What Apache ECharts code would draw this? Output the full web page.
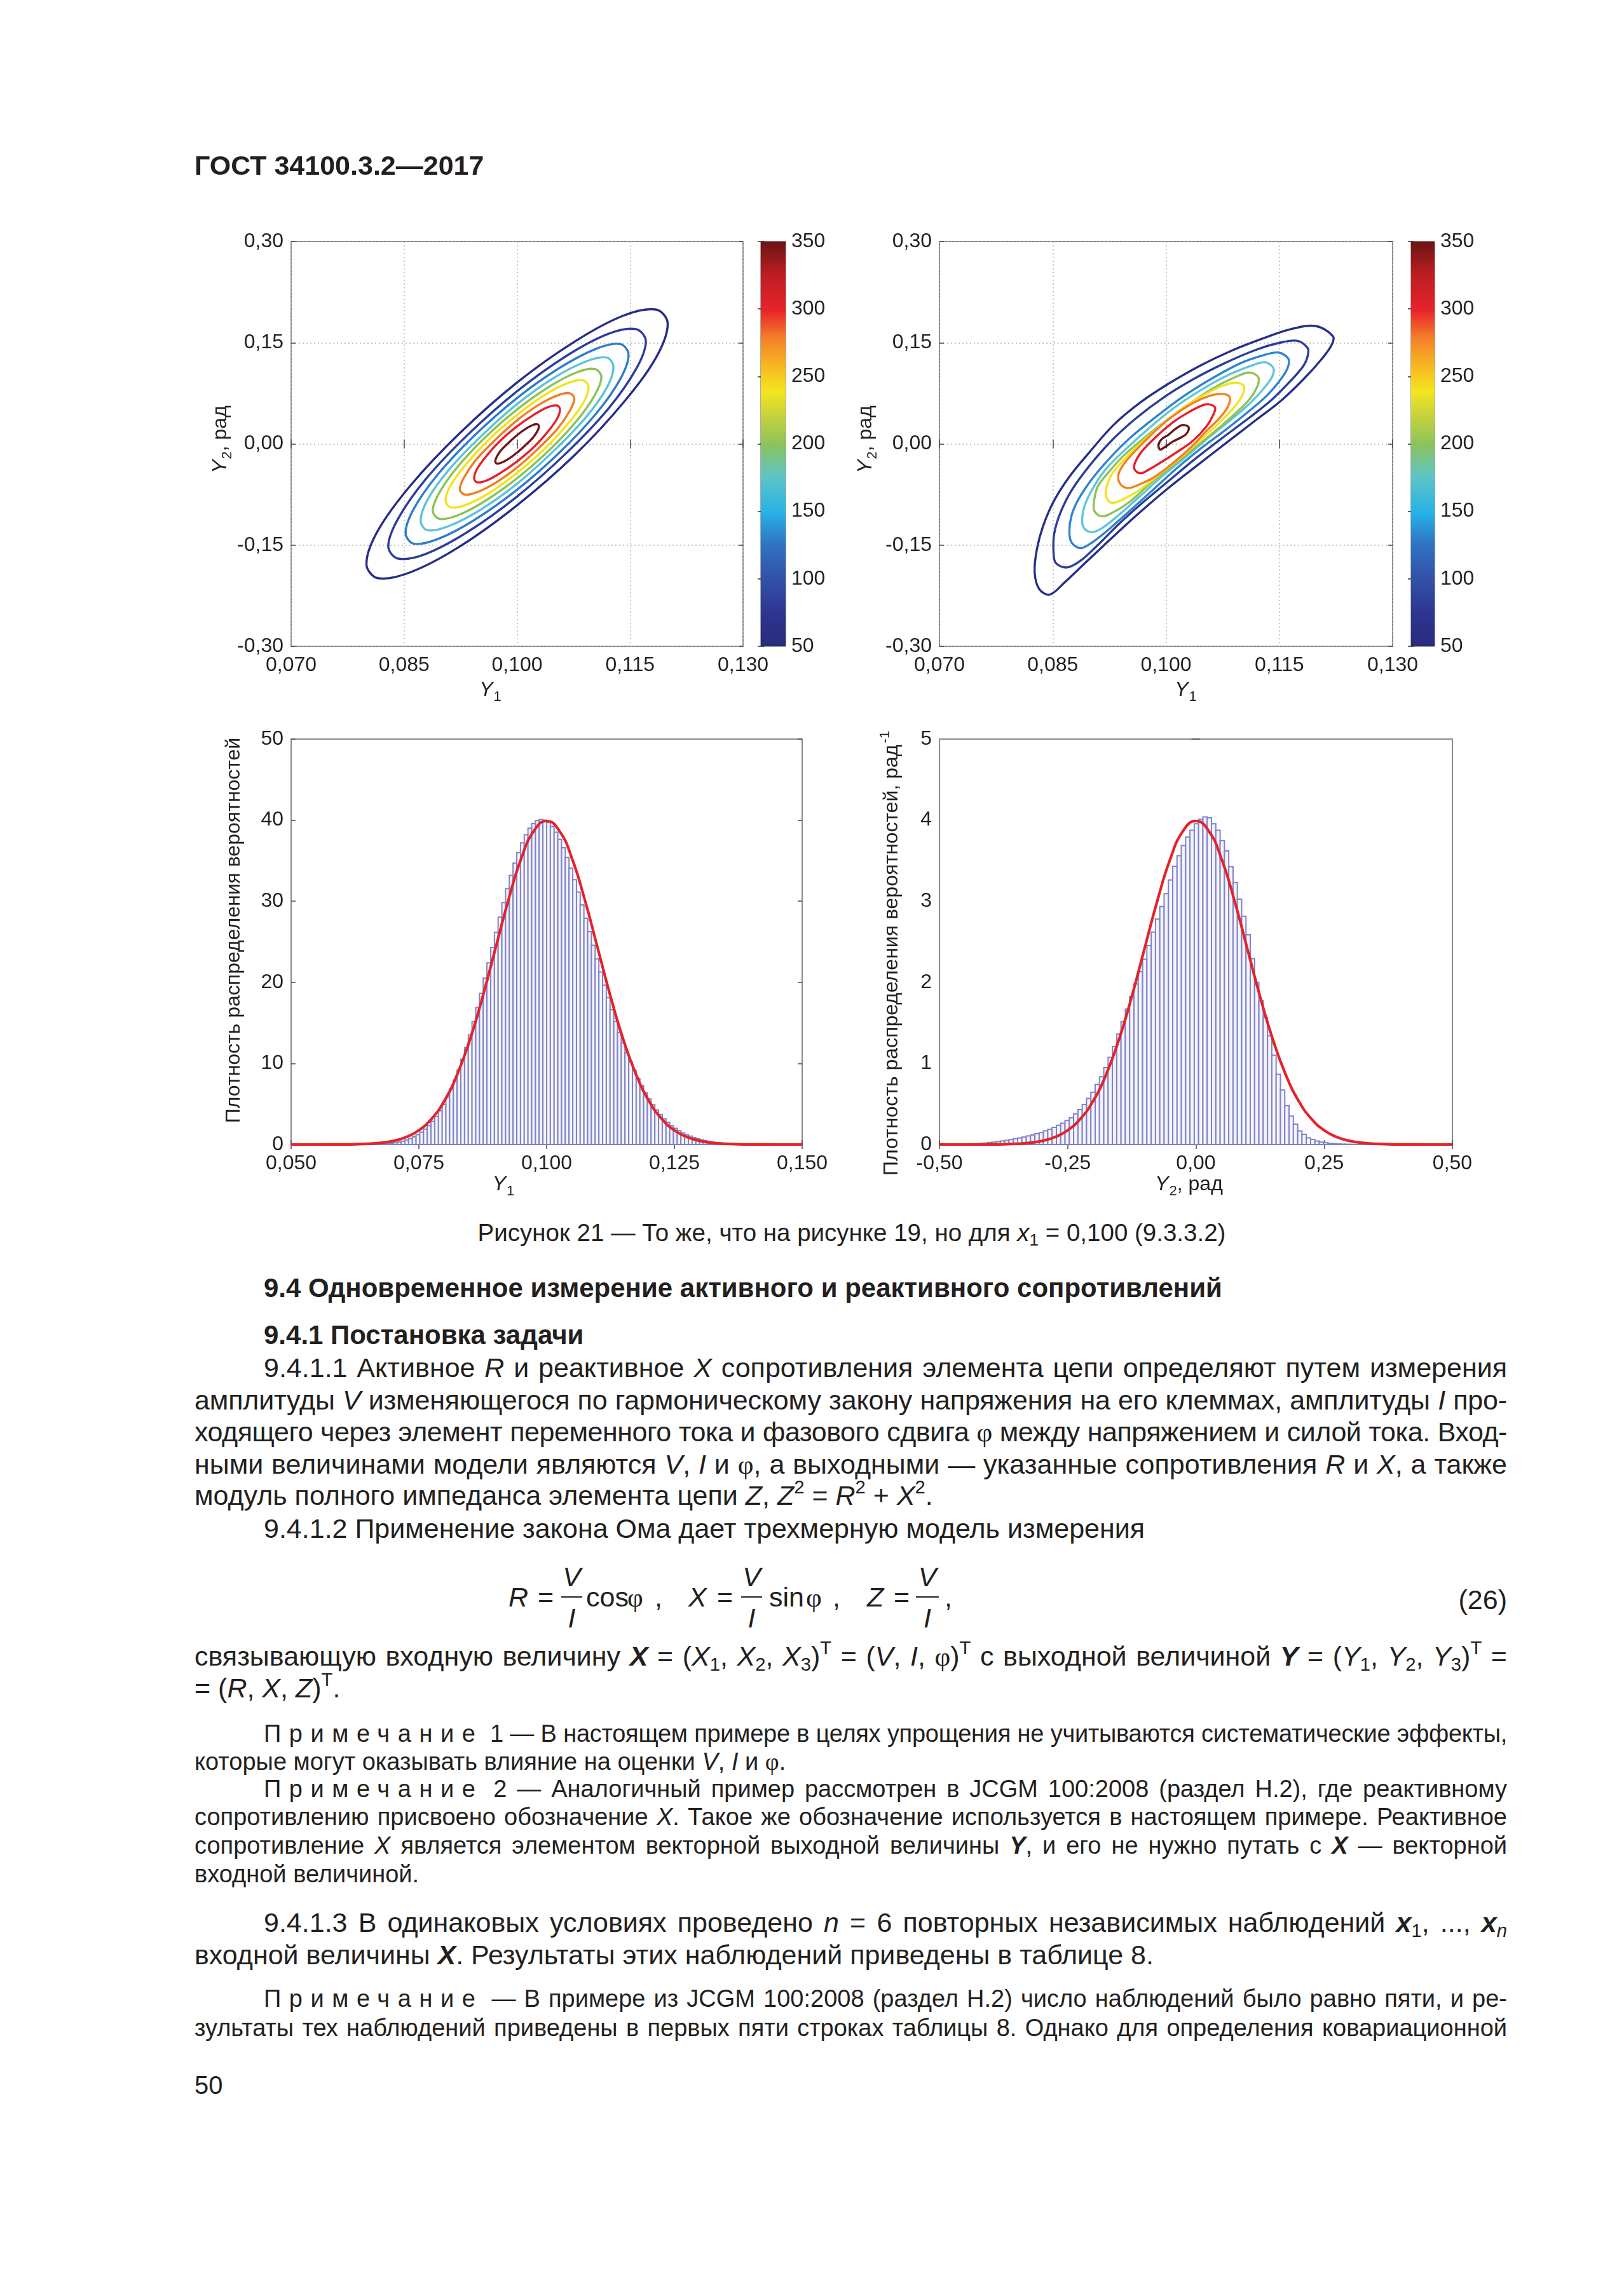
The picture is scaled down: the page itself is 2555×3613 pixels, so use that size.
<!DOCTYPE html>
<html>
<head>
<meta charset="utf-8">
<script src="https://cdn.jsdelivr.net/npm/echarts@6/dist/echarts.min.js"></script>
<style>
html,body{margin:0;padding:0;background:#fff;}
#page{position:relative;width:2555px;height:3613px;background:#fff;overflow:hidden;font-family:"Liberation Sans",Arial,sans-serif;color:#231f20;}
#chart{position:absolute;left:0;top:0;width:2555px;height:1900px;}
.ln{position:absolute;white-space:nowrap;}
.b{font-weight:bold;}
.ph{font-family:"Liberation Serif","Times New Roman",serif;}
.sp{letter-spacing:0.33em;}
sup{font-size:68%;vertical-align:0.62em;line-height:0;}
sub{font-size:68%;vertical-align:-0.28em;line-height:0;}
.tok{position:absolute;white-space:nowrap;font-size:43px;line-height:52px;}
.fbar{position:absolute;height:2px;background:#231f20;}
</style>
</head>
<body>
<div id="page"><div id="chart"></div></div>
<script>
// ---------------- DATA ----------------
// Tick labels
const contourXTicks = ['0,070','0,085','0,100','0,115','0,130'];
const contourYTicks = ['-0,30','-0,15','0,00','0,15','0,30'];
const colorbarTicks = ['50','100','150','200','250','300','350'];
const histAXTicks = ['0,050','0,075','0,100','0,125','0,150'];
const histAYTicks = ['0','10','20','30','40','50'];
const histBXTicks = ['-0,50','-0,25','0,00','0,25','0,50'];
const histBYTicks = ['0','1','2','3','4','5'];
const colorbarRange = [50, 350];

// Contour lines, left plot (Y1, Y2), outer to inner
const contoursA = [
 [[0.1200,0.178],[0.1185,0.199],[0.1141,0.190],[0.1077,0.152],[0.1000,0.091],[0.0924,0.016],[0.0859,-0.061],[0.0815,-0.129],[0.0800,-0.178],[0.0815,-0.199],[0.0859,-0.190],[0.0924,-0.152],[0.1000,-0.091],[0.1077,-0.016],[0.1141,0.061],[0.1185,0.129]],
 [[0.1171,0.152],[0.1158,0.170],[0.1121,0.163],[0.1065,0.130],[0.1000,0.078],[0.0935,0.014],[0.0879,-0.052],[0.0842,-0.111],[0.0829,-0.152],[0.0842,-0.170],[0.0879,-0.163],[0.0935,-0.130],[0.1000,-0.078],[0.1065,-0.014],[0.1121,0.052],[0.1158,0.111]],
 [[0.1148,0.132],[0.1137,0.148],[0.1105,0.141],[0.1057,0.113],[0.1000,0.068],[0.0943,0.012],[0.0895,-0.045],[0.0863,-0.096],[0.0852,-0.132],[0.0863,-0.148],[0.0895,-0.141],[0.0943,-0.113],[0.1000,-0.068],[0.1057,-0.012],[0.1105,0.045],[0.1137,0.096]],
 [[0.1128,0.114],[0.1119,0.128],[0.1091,0.122],[0.1049,0.098],[0.1000,0.059],[0.0951,0.010],[0.0909,-0.039],[0.0881,-0.083],[0.0872,-0.114],[0.0881,-0.128],[0.0909,-0.122],[0.0951,-0.098],[0.1000,-0.059],[0.1049,-0.010],[0.1091,0.039],[0.1119,0.083]],
 [[0.1112,0.099],[0.1103,0.111],[0.1079,0.106],[0.1043,0.085],[0.1000,0.051],[0.0957,0.009],[0.0921,-0.034],[0.0897,-0.072],[0.0888,-0.099],[0.0897,-0.111],[0.0921,-0.106],[0.0957,-0.085],[0.1000,-0.051],[0.1043,-0.009],[0.1079,0.034],[0.1103,0.072]],
 [[0.1095,0.084],[0.1088,0.094],[0.1067,0.090],[0.1036,0.072],[0.1000,0.043],[0.0964,0.008],[0.0933,-0.029],[0.0912,-0.061],[0.0905,-0.084],[0.0912,-0.094],[0.0933,-0.090],[0.0964,-0.072],[0.1000,-0.043],[0.1036,-0.008],[0.1067,0.029],[0.1088,0.061]],
 [[0.1076,0.067],[0.1070,0.075],[0.1054,0.072],[0.1029,0.058],[0.1000,0.035],[0.0971,0.006],[0.0946,-0.023],[0.0930,-0.049],[0.0924,-0.067],[0.0930,-0.075],[0.0946,-0.072],[0.0971,-0.058],[0.1000,-0.035],[0.1029,-0.006],[0.1054,0.023],[0.1070,0.049]],
 [[0.1057,0.051],[0.1053,0.057],[0.1040,0.054],[0.1022,0.043],[0.1000,0.026],[0.0978,0.005],[0.0960,-0.017],[0.0947,-0.037],[0.0943,-0.051],[0.0947,-0.057],[0.0960,-0.054],[0.0978,-0.043],[0.1000,-0.026],[0.1022,-0.005],[0.1040,0.017],[0.1053,0.037]],
 [[0.1029,0.026],[0.1027,0.029],[0.1021,0.028],[0.1011,0.022],[0.1000,0.013],[0.0989,0.002],[0.0979,-0.009],[0.0973,-0.019],[0.0971,-0.026],[0.0973,-0.029],[0.0979,-0.028],[0.0989,-0.022],[0.1000,-0.013],[0.1011,-0.002],[0.1021,0.009],[0.1027,0.019]]
];

// Contour lines, right plot, outer to inner
const contoursB = [
 [[0.1198,0.1747],[0.1221,0.1596],[0.1219,0.1462],[0.1205,0.1243],[0.1182,0.0958],[0.1152,0.0638],[0.1119,0.0353],[0.1080,0.0017],[0.1045,-0.0286],[0.1003,-0.0655],[0.0961,-0.1058],[0.0925,-0.1428],[0.0893,-0.1764],[0.0866,-0.2050],[0.0846,-0.2234],[0.0832,-0.2150],[0.0826,-0.1898],[0.0829,-0.1562],[0.0837,-0.1226],[0.0851,-0.0857],[0.0872,-0.0487],[0.0899,-0.0118],[0.0931,0.0286],[0.0967,0.0622],[0.1003,0.0890],[0.1045,0.1159],[0.1086,0.1378],[0.1128,0.1562],[0.1164,0.1697]],
 [[0.1173,0.1529],[0.1187,0.1428],[0.1188,0.1327],[0.1182,0.1159],[0.1164,0.0924],[0.1140,0.0655],[0.1110,0.0386],[0.1074,0.0084],[0.1039,-0.0218],[0.1003,-0.0554],[0.0967,-0.0890],[0.0937,-0.1193],[0.0910,-0.1495],[0.0887,-0.1730],[0.0869,-0.1831],[0.0854,-0.1764],[0.0851,-0.1596],[0.0852,-0.1327],[0.0860,-0.1025],[0.0875,-0.0689],[0.0899,-0.0319],[0.0928,0.0050],[0.0961,0.0386],[0.0997,0.0689],[0.1036,0.0958],[0.1077,0.1193],[0.1119,0.1394],[0.1149,0.1495]],
 [[0.1149,0.1354],[0.1162,0.1260],[0.1161,0.1126],[0.1152,0.0958],[0.1134,0.0722],[0.1110,0.0487],[0.1080,0.0218],[0.1048,-0.0050],[0.1015,-0.0353],[0.0982,-0.0689],[0.0952,-0.0991],[0.0925,-0.1260],[0.0902,-0.1462],[0.0887,-0.1546],[0.0875,-0.1462],[0.0872,-0.1294],[0.0875,-0.1058],[0.0884,-0.0823],[0.0902,-0.0521],[0.0925,-0.0218],[0.0952,0.0084],[0.0985,0.0386],[0.1021,0.0689],[0.1059,0.0958],[0.1098,0.1193],[0.1128,0.1310]],
 [[0.1131,0.1210],[0.1142,0.1126],[0.1141,0.1008],[0.1132,0.0857],[0.1113,0.0622],[0.1089,0.0386],[0.1059,0.0118],[0.1027,-0.0185],[0.0994,-0.0487],[0.0964,-0.0790],[0.0937,-0.1058],[0.0916,-0.1243],[0.0902,-0.1310],[0.0891,-0.1243],[0.0889,-0.1092],[0.0893,-0.0890],[0.0905,-0.0622],[0.0922,-0.0353],[0.0946,-0.0084],[0.0976,0.0218],[0.1009,0.0521],[0.1045,0.0790],[0.1080,0.1008],[0.1113,0.1159]],
 [[0.1110,0.1058],[0.1122,0.0991],[0.1121,0.0857],[0.1110,0.0655],[0.1092,0.0454],[0.1068,0.0218],[0.1039,-0.0050],[0.1009,-0.0319],[0.0979,-0.0588],[0.0952,-0.0857],[0.0931,-0.1008],[0.0915,-0.1075],[0.0905,-0.0991],[0.0905,-0.0823],[0.0910,-0.0622],[0.0924,-0.0420],[0.0943,-0.0185],[0.0967,0.0050],[0.0997,0.0319],[0.1030,0.0588],[0.1062,0.0823],[0.1092,0.0991]],
 [[0.1092,0.0907],[0.1103,0.0857],[0.1101,0.0722],[0.1091,0.0554],[0.1071,0.0319],[0.1048,0.0084],[0.1021,-0.0185],[0.0991,-0.0454],[0.0964,-0.0689],[0.0943,-0.0823],[0.0928,-0.0874],[0.0921,-0.0790],[0.0921,-0.0655],[0.0928,-0.0454],[0.0943,-0.0252],[0.0964,-0.0017],[0.0991,0.0252],[0.1021,0.0521],[0.1050,0.0722],[0.1074,0.0857]],
 [[0.1074,0.0739],[0.1084,0.0696],[0.1082,0.0554],[0.1071,0.0386],[0.1053,0.0185],[0.1033,-0.0050],[0.1009,-0.0286],[0.0985,-0.0487],[0.0964,-0.0605],[0.0949,-0.0655],[0.0939,-0.0588],[0.0937,-0.0454],[0.0945,-0.0286],[0.0961,-0.0084],[0.0982,0.0151],[0.1006,0.0386],[0.1033,0.0588],[0.1056,0.0706]],
 [[0.1056,0.0588],[0.1065,0.0538],[0.1062,0.0420],[0.1053,0.0252],[0.1036,0.0050],[0.1015,-0.0118],[0.0994,-0.0269],[0.0979,-0.0370],[0.0966,-0.0437],[0.0958,-0.0370],[0.0960,-0.0252],[0.0970,-0.0084],[0.0988,0.0118],[0.1009,0.0319],[0.1030,0.0470],[0.1048,0.0571]],
 [[0.1024,0.0279],[0.1030,0.0245],[0.1027,0.0151],[0.1018,0.0084],[0.1009,0.0034],[0.0998,-0.0050],[0.0992,-0.0084],[0.0990,-0.0017],[0.0994,0.0067],[0.1003,0.0134],[0.1012,0.0218],[0.1019,0.0269]]
];

// Histogram of Y1 (bin start, bin width, heights)
const histAStart = 0.0635;
const histABin = 0.00073;
const histAValues = [0,0,0,0.005,0.018,0.037,0.065,0.102,0.153,0.219,
0.306,0.416,0.555,0.729,0.943,1.205,1.519,1.896,2.339,2.859,
3.463,4.158,4.951,5.845,6.850,7.962,9.19,10.53,11.97,13.51,
15.15,16.88,18.66,20.51,22.39,24.29,26.18,28.04,29.84,31.56,
33.18,34.69,36.02,37.21,38.20,39.01,39.58,39.94,40.09,40.00,
39.72,39.21,38.52,37.64,36.59,35.40,34.07,32.66,31.13,29.54,
27.89,26.25,24.57,22.90,21.28,19.66,18.11,16.62,15.18,13.81,
12.52,11.31,10.17,9.13,8.15,7.26,6.40,5.62,4.92,4.28,
3.70,3.18,2.74,2.34,2.00,1.70,1.45,1.22,1.03,0.86,
0.71,0.58,0.47,0.38,0.30,0.24,0.19,0.15,0.11,0.08];

// Histogram of Y2
const histBStart = -0.44;
const histBBin = 0.0084;
const histBValues = [0.006,0.009,0.013,0.018,0.024,0.030,0.036,0.043,0.051,0.060,
0.070,0.081,0.093,0.105,0.118,0.133,0.147,0.168,0.188,0.211,
0.237,0.262,0.296,0.330,0.378,0.432,0.493,0.569,0.645,0.740,
0.836,0.949,1.075,1.206,1.361,1.517,1.672,1.828,1.981,2.132,
2.284,2.452,2.620,2.780,2.935,3.094,3.262,3.430,3.561,3.687,
3.792,3.876,3.955,4.010,4.040,4.030,3.955,3.875,3.749,3.620,
3.427,3.230,3.025,2.815,2.587,2.293,2.000,1.775,1.565,1.342,
1.102,0.866,0.673,0.480,0.350,0.250,0.167,0.125,0.083,0.062,
0.044,0.030,0.022,0.014,0.011,0.007,0.005,0.003,0.002,0.001,
0.0005,0,0,0];

// Red density curves (read at even steps)
const redAX = [0.05,0.0525,0.055,0.0575,0.06,0.0625,0.065,0.0675,0.07,0.0725,0.075,0.0775,0.08,0.0825,0.085,0.0875,0.09,0.0925,0.095,0.0975,0.1,
               0.1025,0.105,0.1075,0.11,0.1125,0.115,0.1175,0.12,0.1225,0.125,0.1275,0.13,0.1325,0.135,0.1375,0.14,0.1425,0.145,0.1475,0.15];
const redAY = [0.0002,0.0005,0.0016,0.0048,0.0134,0.0353,0.0873,0.2028,0.443,0.909,1.753,3.175,5.399,8.628,12.95,18.26,24.20,30.11,35.21,38.67,39.89,
               38.67,35.21,30.11,24.20,18.26,12.95,8.628,5.399,3.175,1.753,0.909,0.443,0.2028,0.0873,0.0353,0.0134,0.0048,0.0016,0.0005,0.0002];
const redBX = [-0.5,-0.475,-0.45,-0.425,-0.4,-0.375,-0.35,-0.325,-0.3,-0.275,-0.25,-0.225,-0.2,-0.175,-0.15,-0.125,-0.1,-0.075,-0.05,-0.025,0,
               0.025,0.05,0.075,0.1,0.125,0.15,0.175,0.2,0.225,0.25,0.275,0.3,0.325,0.35,0.375,0.4,0.425,0.45,0.475,0.5];
const redBY = [0.00002,0.00005,0.00016,0.00048,0.00134,0.00353,0.00873,0.0203,0.0443,0.0909,0.1753,0.3175,0.5399,0.8628,1.295,1.826,2.420,3.011,3.521,3.867,3.989,
               3.867,3.521,3.011,2.420,1.826,1.295,0.8628,0.5399,0.3175,0.1753,0.0909,0.0443,0.0203,0.00873,0.00353,0.00134,0.00048,0.00016,0.00005,0.00002];

// ---------------- STYLES ----------------
const FONT = '"Liberation Sans", Arial, sans-serif';
const INK = '#231f20';
const contourColorsA = ['#262d86','#2c3c9c','#2f7cc7','#5cc2da','#8ec152','#f2e21c','#f27b20','#e5202a','#74141a'];
const contourColorsB = ['#262f88','#2b3c99','#2e84cd','#60c5d9','#8fc257','#f3e31e','#f28022','#e41f2a','#6e1315'];
const jetStops = [
 {offset:0.00,color:'#2a2b7c'},{offset:0.08,color:'#2d3591'},{offset:0.17,color:'#3352a9'},
 {offset:0.25,color:'#2f72c2'},{offset:0.33,color:'#27b2e6'},{offset:0.42,color:'#5ec4c6'},
 {offset:0.50,color:'#8cc35a'},{offset:0.58,color:'#cfd538'},{offset:0.63,color:'#f4e51e'},
 {offset:0.70,color:'#f7b123'},{offset:0.76,color:'#f4812a'},{offset:0.83,color:'#e8232a'},
 {offset:0.92,color:'#bb1d22'},{offset:1.00,color:'#6b1414'}];

const nameRich = {
  i:{fontStyle:'italic',fontSize:32,fontFamily:FONT,color:INK},
  n:{fontSize:32,fontFamily:FONT,color:INK},
  s:{fontSize:22,fontFamily:FONT,color:INK,padding:[22,0,0,1]},
  p:{fontSize:22,fontFamily:FONT,color:INK,padding:[0,0,20,2]}
};
function lab(arr,min,step){return v=>{const i=Math.round((v-min)/step);return arr[i]===undefined?'':arr[i];};}
const tick = {show:true,inside:true,length:7,lineStyle:{color:'#4a4a4a',width:1.5}};
const lbl = {color:INK,fontSize:32,fontFamily:FONT,showMinLabel:true,showMaxLabel:true};
const split = {show:true,lineStyle:{type:[2,4],color:'#b4b4b4',width:1.5}};

function xAxes(g,min,max,step,labels,withSplit,name,gap,pad){
  return [
   {type:'value',gridIndex:g,position:'bottom',min,max,interval:step,axisLine:{show:false},axisTick:tick,
    axisLabel:Object.assign({},lbl,{margin:14,formatter:lab(labels,min,step)}),
    splitLine:withSplit?split:{show:false},
    name,nameLocation:'middle',nameGap:gap,nameTextStyle:{fontSize:32,fontFamily:FONT,color:INK,rich:nameRich,padding:pad}},
   {type:'value',gridIndex:g,position:'top',min,max,interval:step,axisLine:{show:false},axisTick:tick,axisLabel:{show:false},splitLine:{show:false}}
  ];
}
function yAxes(g,min,max,step,labels,withSplit,name,gap,pad){
  return [
   {type:'value',gridIndex:g,position:'left',min,max,interval:step,axisLine:{show:false},axisTick:tick,
    axisLabel:Object.assign({},lbl,{margin:12,formatter:lab(labels,min,step)}),
    splitLine:withSplit?split:{show:false},
    name,nameLocation:'middle',nameRotate:90,nameGap:gap,nameTextStyle:{fontSize:32,fontFamily:FONT,color:INK,rich:nameRich,padding:pad}},
   {type:'value',gridIndex:g,position:'right',min,max,interval:step,axisLine:{show:false},axisTick:tick,axisLabel:{show:false},splitLine:{show:false}}
  ];
}
function cbY(g){
  const t={show:true,inside:true,length:5,lineStyle:{color:'#333',width:1.5}};
  return [
   {type:'value',gridIndex:g,position:'right',min:colorbarRange[0],max:colorbarRange[1],interval:50,axisLine:{show:false},axisTick:t,
    axisLabel:Object.assign({},lbl,{margin:9,formatter:lab(colorbarTicks,50,50)}),splitLine:{show:false}},
   {type:'value',gridIndex:g,position:'left',min:colorbarRange[0],max:colorbarRange[1],interval:50,axisLine:{show:false},axisTick:t,axisLabel:{show:false},splitLine:{show:false}}
  ];
}
const cbX = g => ({type:'value',gridIndex:g,min:0,max:1,show:false});

const gridBase = {show:true,borderColor:'#8a8a8a',borderWidth:2,backgroundColor:'transparent'};
const grids = [
  Object.assign({left:458,top:380,width:711,height:637},gridBase),
  {left:1197,top:380,width:39,height:637,show:true,borderColor:'#555',borderWidth:1},
  Object.assign({left:1478,top:380,width:713,height:637},gridBase),
  {left:2220,top:380,width:37,height:637,show:true,borderColor:'#555',borderWidth:1},
  Object.assign({left:458,top:1163,width:804,height:638},gridBase),
  Object.assign({left:1478,top:1163,width:807,height:638},gridBase)
];

const xAxis = [].concat(
  xAxes(0,0.07,0.13,0.015,contourXTicks,true,'{i|Y}{s|1}',47,[0,84,0,0]),
  [cbX(1)],
  xAxes(2,0.07,0.13,0.015,contourXTicks,true,'{i|Y}{s|1}',47,[0,0,0,62]),
  [cbX(3)],
  xAxes(4,0.05,0.15,0.025,histAXTicks,false,'{i|Y}{s|1}',39,[0,136,0,0]),
  xAxes(5,-0.5,0.5,0.25,histBXTicks,false,'{i|Y}{s|2}{n|, рад}',39,[0,22,0,0])
);
const yAxis = [].concat(
  yAxes(0,-0.3,0.3,0.15,contourYTicks,true,'{i|Y}{s|2}{n|, рад}',86,[0,0,0,14]),
  cbY(1),
  yAxes(2,-0.3,0.3,0.15,contourYTicks,true,'{i|Y}{s|2}{n|, рад}',94,[0,0,0,14]),
  cbY(3),
  yAxes(4,0,50,10,histAYTicks,false,'Плотность распределения вероятностей',74,[0,0,0,36]),
  yAxes(5,0,5,1,histBYTicks,false,'{n|Плотность распределения вероятностей, рад}{p|-1}',54,[0,36,0,0])
);

function contourSeries(list,colors,xi,yi){
  return {type:'custom',xAxisIndex:xi,yAxisIndex:yi,silent:true,clip:true,z:5,
    data:list.map((c,i)=>[c[0][0],c[0][1],i]),
    renderItem:(params,api)=>{
      const i=api.value(2);
      const pts=list[i].map(p=>api.coord(p));
      return {type:'polygon',shape:{points:pts,smooth:0.35},style:{fill:'none',stroke:colors[i],lineWidth:3.4}};
    }};
}
function colorbarSeries(xi,yi){
  return {type:'custom',xAxisIndex:xi,yAxisIndex:yi,silent:true,data:[[0,colorbarRange[0],1,colorbarRange[1]]],
    renderItem:(params,api)=>{
      const a=api.coord([api.value(0),api.value(3)]), b=api.coord([api.value(2),api.value(1)]);
      return {type:'rect',shape:{x:a[0],y:a[1],width:b[0]-a[0],height:b[1]-a[1]},
        style:{fill:new echarts.graphic.LinearGradient(0,1,0,0,jetStops)}};
    }};
}
function histSeries(start,bin,values,xi,yi){
  return {type:'custom',xAxisIndex:xi,yAxisIndex:yi,silent:true,z:2,
    data:values.map((v,k)=>[start+k*bin,start+(k+1)*bin,v]),
    encode:{x:[0,1],y:2},
    renderItem:(params,api)=>{
      const p0=api.coord([api.value(0),api.value(2)]), p1=api.coord([api.value(1),0]);
      return {type:'rect',shape:{x:p0[0],y:p0[1],width:p1[0]-p0[0],height:p1[1]-p0[1]},
        style:{fill:'#f4f4fc',stroke:'#7f82c8',lineWidth:2}};
    }};
}
function redSeries(xs,ys,xi,yi){
  return {type:'line',xAxisIndex:xi,yAxisIndex:yi,silent:true,z:4,showSymbol:false,smooth:0.5,
    data:xs.map((x,k)=>[x,ys[k]]),lineStyle:{color:'#e42328',width:4.2}};
}

const option = {
  animation:false,
  backgroundColor:'transparent',
  grid:grids, xAxis, yAxis,
  series:[
    contourSeries(contoursA,contourColorsA,0,0),
    colorbarSeries(2,2),
    contourSeries(contoursB,contourColorsB,3,4),
    colorbarSeries(5,6),
    histSeries(histAStart,histABin,histAValues,6,8),
    redSeries(redAX,redAY,6,8),
    histSeries(histBStart,histBBin,histBValues,8,10),
    redSeries(redBX,redBY,8,10)
  ]
};
const chart = echarts.init(document.getElementById('chart'),null,{renderer:'canvas',width:2555,height:1900});
chart.setOption(option);

// ---------------- PAGE TEXT ----------------
const RIGHT = 2371;
const lines = [
 {t:'ГОСТ 34100.3.2—2017', x:306, y:260, s:43, b:true},
 {t:'Рисунок 21 — То же, что на рисунке 19, но для <i>x</i><sub>1</sub> = 0,100 (9.3.3.2)', cx:1340, y:1940, s:38.5},
 {t:'9.4 Одновременное измерение активного и реактивного сопротивлений', x:415, y:2027, s:42, b:true},
 {t:'9.4.1 Постановка задачи', x:415, y:2101, s:42, b:true},
 {t:'9.4.1.1 Активное <i>R</i> и реактивное <i>X</i> сопротивления элемента цепи определяют путем измерения', x:415, y:2152, s:43, j:true},
 {t:'амплитуды <i>V</i> изменяющегося по гармоническому закону напряжения на его клеммах, амплитуды <i>I</i> про-', x:306, y:2203, s:43, j:true},
 {t:'ходящего через элемент переменного тока и фазового сдвига φ между напряжением и силой тока. Вход-', x:306, y:2253, s:43, j:true},
 {t:'ными величинами модели являются <i>V</i>, <i>I</i> и φ, а выходными — указанные сопротивления <i>R</i> и <i>X</i>, а также', x:306, y:2304, s:43, j:true},
 {t:'модуль полного импеданса элемента цепи <i>Z</i>, <i>Z</i><sup>2</sup> = <i>R</i><sup>2</sup> + <i>X</i><sup>2</sup>.', x:306, y:2353, s:43},
 {t:'9.4.1.2 Применение закона Ома дает трехмерную модель измерения', x:415, y:2405, s:43},
 {t:'связывающую входную величину <b><i>X</i></b> = (<i>X</i><sub>1</sub>, <i>X</i><sub>2</sub>, <i>X</i><sub>3</sub>)<sup>T</sup> = (<i>V</i>, <i>I</i>, φ)<sup>T</sup> с выходной величиной <b><i>Y</i></b> = (<i>Y</i><sub>1</sub>, <i>Y</i><sub>2</sub>, <i>Y</i><sub>3</sub>)<sup>T</sup> =', x:306, y:2606, s:43, j:true},
 {t:'= (<i>R</i>, <i>X</i>, <i>Z</i>)<sup>T</sup>.', x:306, y:2656, s:43},
 {t:'<span class="sp">Примечание</span> 1 — В настоящем примере в целях упрощения не учитываются систематические эффекты,', x:415, y:2728, s:38, j:true},
 {t:'которые могут оказывать влияние на оценки <i>V</i>, <i>I</i> и φ.', x:306, y:2772, s:38},
 {t:'<span class="sp">Примечание</span> 2 — Аналогичный пример рассмотрен в JCGM 100:2008 (раздел H.2), где реактивному', x:415, y:2815, s:38, j:true},
 {t:'сопротивлению присвоено обозначение <i>X</i>. Такое же обозначение используется в настоящем примере. Реактивное', x:306, y:2859, s:38, j:true},
 {t:'сопротивление <i>X</i> является элементом векторной выходной величины <b><i>Y</i></b>, и его не нужно путать с <b><i>X</i></b> — векторной', x:306, y:2904, s:38, j:true},
 {t:'входной величиной.', x:306, y:2949, s:38},
 {t:'9.4.1.3 В одинаковых условиях проведено <i>n</i> = 6 повторных независимых наблюдений <b><i>x</i></b><sub>1</sub>, ..., <b><i>x</i></b><sub><i>n</i></sub>', x:415, y:3025, s:43, j:true},
 {t:'входной величины <b><i>X</i></b>. Результаты этих наблюдений приведены в таблице 8.', x:306, y:3076, s:43},
 {t:'<span class="sp">Примечание</span> — В примере из JCGM 100:2008 (раздел H.2) число наблюдений было равно пяти, и ре-', x:415, y:3145, s:38, j:true},
 {t:'зультаты тех наблюдений приведены в первых пяти строках таблицы 8. Однако для определения ковариационной', x:306, y:3191, s:38, j:true},
 {t:'50', x:306, y:3281, s:40}
];
const page = document.getElementById('page');
lines.forEach(L=>{
  const d=document.createElement('div');
  d.className='ln'+(L.b?' b':'');
  d.innerHTML=L.t.replace(/φ/g,'<span class="ph">φ</span>');
  d.style.fontSize=L.s+'px';
  const lh=Math.round(L.s*1.2);
  d.style.lineHeight=lh+'px';
  d.style.top=(L.y-lh/2)+'px';
  d.style.left=(L.x||0)+'px';
  page.appendChild(d);
  const w=d.getBoundingClientRect().width;
  if(L.cx!==undefined) d.style.left=(L.cx-w/2)+'px';
  if(L.j){
    const W=RIGHT-L.x;
    if(w>W-2){const n=d.textContent.length;d.style.letterSpacing=(-(w-W+6)/n)+'px';}
    d.style.width=W+'px';d.style.textAlign='justify';d.style.textAlignLast='justify';
  }
});

// Formula (26)
const MAINY = 2513, NUMY = 2481, DENY = 2546;
const tokens = [
 {t:'<i>R</i>', x:800}, {t:'=', x:846},
 {frac:[883,916]}, {t:'cos', x:922}, {t:'<span class="ph">φ</span>', x:987}, {t:',', x:1030},
 {t:'<i>X</i>', x:1083}, {t:'=', x:1128},
 {frac:[1166,1199]}, {t:'sin', x:1210}, {t:'<span class="ph">φ</span>', x:1268}, {t:',', x:1310},
 {t:'<i>Z</i>', x:1364}, {t:'=', x:1406},
 {frac:[1441,1477]}, {t:',', x:1486},
 {t:'(26)', rx:RIGHT}
];
function tok(html,x,yc,center,w){
  const d=document.createElement('div');d.className='tok';d.innerHTML=html;
  d.style.top=(yc-26)+'px';
  page.appendChild(d);
  if(center){d.style.left=x+'px';d.style.width=w+'px';d.style.textAlign='center';}
  else d.style.left=x+'px';
  return d;
}
tokens.forEach(T=>{
  if(T.frac){
    const [a,b]=T.frac;
    const bar=document.createElement('div');bar.className='fbar';
    bar.style.left=a+'px';bar.style.width=(b-a)+'px';bar.style.top=(MAINY-1)+'px';page.appendChild(bar);
    tok('<i>V</i>',a-10,NUMY,true,b-a+20);
    tok('<i>I</i>',a-10,DENY,true,b-a+20);
  } else if(T.rx!==undefined){
    const d=tok(T.t,0,MAINY+4,false);
    d.style.left=(T.rx-d.getBoundingClientRect().width)+'px';
  } else tok(T.t,T.x,MAINY,false);
});
</script>
</body>
</html>
